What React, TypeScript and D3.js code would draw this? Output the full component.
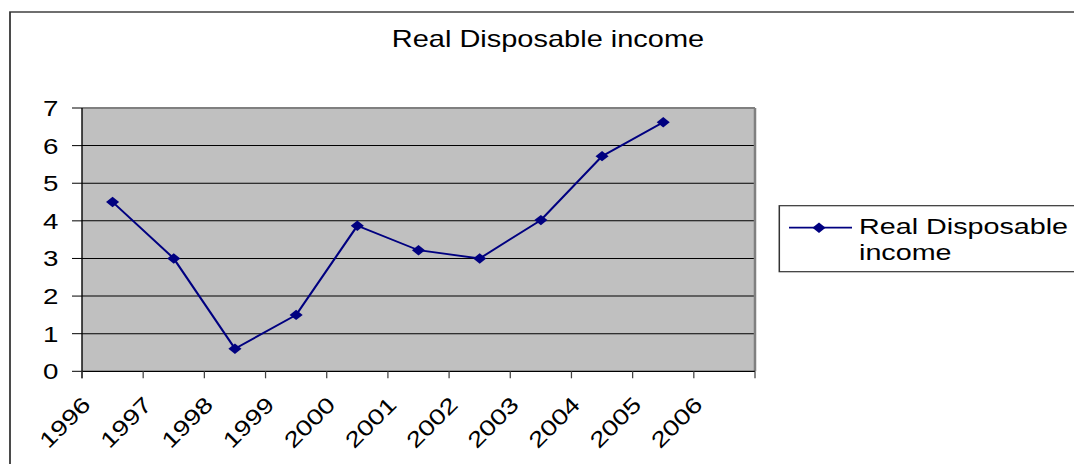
import React from "react";
import * as d3 from "d3";

const categories = ["1996","1997","1998","1999","2000","2001","2002","2003","2004","2005","2006"];
const seriesYears = ["1996","1997","1998","1999","2000","2001","2002","2003","2004","2005"];
const seriesValues = [4.5, 3.0, 0.6, 1.5, 3.87, 3.22, 3.0, 4.02, 5.72, 6.62];
const yTicks = [0, 1, 2, 3, 4, 5, 6, 7];
const titleText = "Real Disposable income";
const legendLines = ["Real Disposable", "income"];

const SX = 1.26; // horizontal stretch of the reference image
const W = 1074;
const H = 464;
const VW = W / SX;
const FONT = "'Liberation Sans', Arial, sans-serif";

const px = (v: number) => v / SX;

export default function App() {
  const left = px(82), right = px(755), top = 108, bottom = 371.3;
  const x = d3.scaleBand<string>().domain(categories).range([left, right]).padding(0);
  const y = d3.scaleLinear().domain([0, 7]).range([bottom, top]);
  const cx = (c: string) => (x(c) as number) + x.bandwidth() / 2;
  const line = d3.line<number>().x((_, i) => cx(seriesYears[i])).y((d) => y(d));
  const r = 5.2;
  const diamond = (a: number, b: number) => `M${a},${b - r}L${a + r},${b}L${a},${b + r}L${a - r},${b}Z`;
  const navy = "#000080";

  return (
    <svg width={W} height={H} viewBox={`0 0 ${VW} ${H}`} preserveAspectRatio="none"
      style={{ position: "absolute", left: 0, top: 0, display: "block", background: "#fff" }}>
      <rect x={px(10)} y={12} width={VW} height={H} fill="#fff" stroke="#333" strokeWidth={1.4} />
      <text x={px(548)} y={47} textAnchor="middle" fontFamily={FONT} fontSize={23} fill="#000">{titleText}</text>

      <rect x={left} y={top} width={right - left} height={bottom - top} fill="#C0C0C0" />
      {yTicks.filter((t) => t > 0 && t < 7).map((t) => (
        <line key={"g" + t} x1={left} x2={right} y1={y(t)} y2={y(t)} stroke="#000" strokeWidth={1} />
      ))}
      <line x1={left} x2={right} y1={top} y2={top} stroke="#808080" strokeWidth={2} />
      <line x1={right} x2={right} y1={top} y2={bottom} stroke="#808080" strokeWidth={2} />

      {/* y axis */}
      <line x1={left} x2={left} y1={top} y2={bottom + 7} stroke="#000" strokeWidth={1.1} />
      {yTicks.map((t) => (
        <g key={"y" + t}>
          <line x1={px(72)} x2={left} y1={y(t)} y2={y(t)} stroke="#000" strokeWidth={1} />
          <text x={px(58.5)} y={y(t)} dy="0.36em" textAnchor="end" fontFamily={FONT} fontSize={22} fill="#000">{t}</text>
        </g>
      ))}

      {/* x axis */}
      <line x1={left} x2={right} y1={bottom} y2={bottom} stroke="#000" strokeWidth={1.2} />
      {categories.concat(["end"]).map((c, i) => {
        const tx = i < categories.length ? (x(c) as number) : right;
        return <line key={"xt" + i} x1={tx} x2={tx} y1={bottom} y2={bottom + 7} stroke="#444" strokeWidth={1} />;
      })}
      {categories.map((c) => (
        <text key={"xl" + c}
          transform={`translate(${(x(c) as number) + px(10)},${406}) scale(${1 / SX},1) rotate(-45) scale(${SX},1)`}
          textAnchor="end" fontFamily={FONT} fontSize={22} fill="#000">{c}</text>
      ))}

      {/* series */}
      <path d={line(seriesValues) || ""} fill="none" stroke={navy} strokeWidth={1.8} />
      {seriesValues.map((v, i) => (
        <path key={"m" + i} d={diamond(cx(seriesYears[i]), y(v))} fill={navy} />
      ))}

      {/* legend */}
      <rect x={px(779.3)} y={205.7} width={VW} height={66} fill="#fff" stroke="#333" strokeWidth={1.2} />
      <line x1={px(789)} x2={px(852)} y1={227.7} y2={227.7} stroke={navy} strokeWidth={1.8} />
      <path d={diamond(px(819), 227.7)} fill={navy} />
      {legendLines.map((t, i) => (
        <text key={"lg" + i} x={px(859)} y={234 + i * 26.5} fontFamily={FONT} fontSize={22.8} fill="#000">{t}</text>
      ))}
    </svg>
  );
}
